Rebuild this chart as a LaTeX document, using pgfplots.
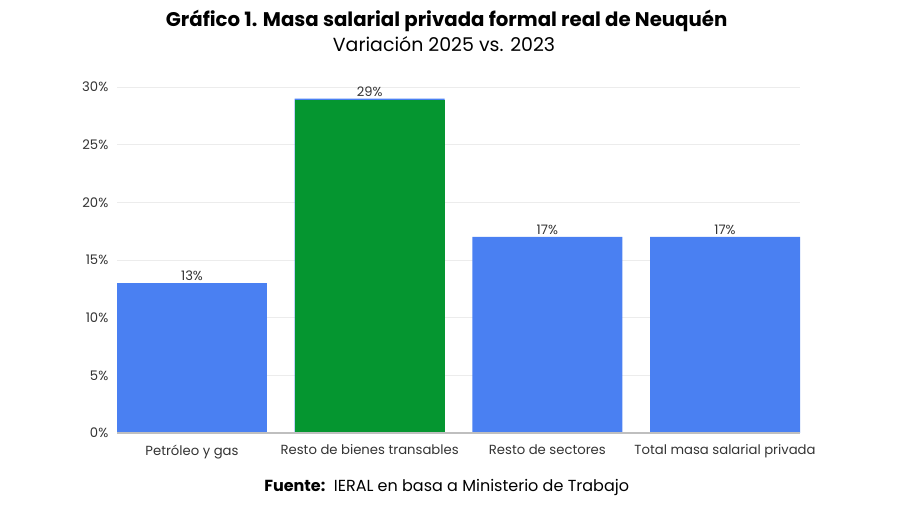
\documentclass[border=0pt]{standalone}
\usepackage{pgfplots}
\pgfplotsset{compat=1.18}
\usepackage{fontspec}
\setmainfont{Poppins}
\definecolor{barblue}{RGB}{74,128,242}
\definecolor{bargreen}{RGB}{5,150,48}
\definecolor{txt}{RGB}{51,51,51}
\begin{document}
\begin{tikzpicture}
\path (0,0) rectangle (675pt,378.75pt);
\node[font=\fontsize{14.8}{17}\selectfont\bfseries] at (335pt,363pt) {Gráfico 1. Masa salarial privada formal real de Neuquén};
\node[font=\fontsize{14.2}{17}\selectfont] at (333pt,346pt) {Variación 2025 vs. 2023};
\node[font=\fontsize{12}{14}\selectfont] at (335pt,12.75pt) {\textbf{Fuente:}\ \ IERAL en basa a Ministerio de Trabajo};
\begin{axis}[
    at={(87.75pt,54pt)}, anchor=south west,
    scale only axis, width=512.25pt, height=259.5pt,
    xmin=-0.422, xmax=3.422, ymin=0, ymax=30,
    ybar, bar width=0.844, bar shift=0pt,
    xtick={0,1,2,3},
    xticklabels={Petróleo y gas, Resto de bienes transables, Resto de sectores, Total masa salarial privada},
    ytick={0,5,10,15,20,25,30},
    yticklabel={\pgfmathprintnumber{\tick}\%},
    /pgf/number format/assume math mode=true,
    tick style={draw=none},
    ymajorgrids, grid style={draw=gray!15, line width=0.5pt},
    axis line style={draw=none},
    ticklabel style={font=\fontsize{9.9}{12}\selectfont, text=txt},
    xticklabel style={yshift=-1pt},
    yticklabel style={xshift=-3pt},
    nodes near coords={\pgfmathprintnumber{\pgfplotspointmeta}\%},
    nodes near coords style={font=\fontsize{9.8}{11}\selectfont, text=txt, /pgf/number format/assume math mode=true, inner sep=1.5pt},
    clip=false,
]
\addplot[fill=barblue, draw=none] coordinates {(0,13) (1,29) (2,17) (3,17)};
\addplot[fill=bargreen, draw=none, nodes near coords={}] coordinates {(1,28.85)};
\draw[gray!50, line width=0.8pt] (axis cs:-0.422,0) -- (axis cs:3.422,0);
\end{axis}
\end{tikzpicture}
\end{document}
